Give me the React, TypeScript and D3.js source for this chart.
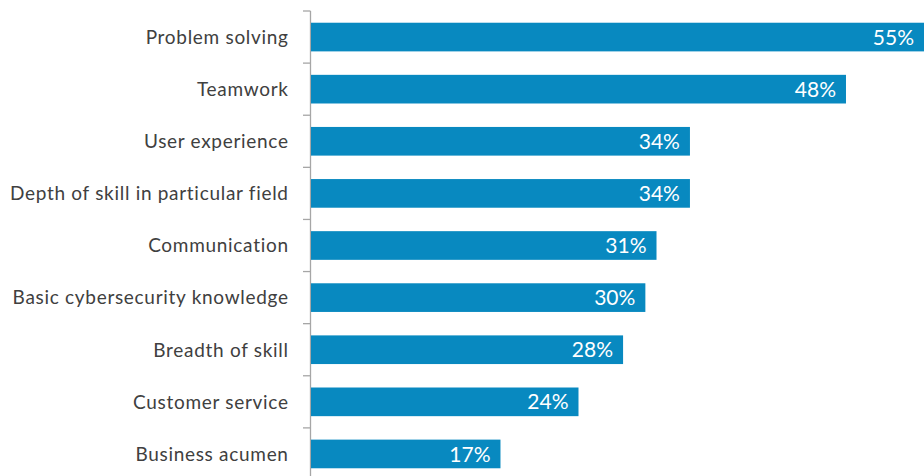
import { useEffect, useRef } from "react";
import * as d3 from "d3";

const categories = [
  "Problem solving",
  "Teamwork",
  "User experience",
  "Depth of skill in particular field",
  "Communication",
  "Basic cybersecurity knowledge",
  "Breadth of skill",
  "Customer service",
  "Business acumen",
];
const values = [55, 48, 34, 34, 31, 30, 28, 24, 17];

const App = () => {
  const ref = useRef<SVGSVGElement>(null);

  useEffect(() => {
    draw();
  }, []);

  const draw = () => {
    const width = 924;
    const height = 476;
    const font = "Lato, 'Open Sans', sans-serif";

    const svg = d3.select(ref.current).attr("width", width).attr("height", height);
    svg.selectAll("*").remove();

    const xScale = d3.scaleLinear().domain([0, 55]).range([311, 924]);
    const yScale = d3
      .scaleBand<string>()
      .domain(categories)
      .range([11, 480])
      .paddingInner(0.45)
      .paddingOuter(0.225);

    const step = yScale.step();
    const top = yScale.range()[0];

    // axis line + tick marks between categories
    const axisG = svg.append("g").attr("stroke", "#a6a6a6").attr("stroke-width", 1.3);
    axisG
      .append("line")
      .attr("x1", 310.5)
      .attr("x2", 310.5)
      .attr("y1", top)
      .attr("y2", height);
    axisG
      .selectAll("line.tick")
      .data(d3.range(categories.length + 1))
      .join("line")
      .attr("class", "tick")
      .attr("x1", 303)
      .attr("x2", 310.5)
      .attr("y1", (i) => top + i * step)
      .attr("y2", (i) => top + i * step);

    // bars
    svg
      .append("g")
      .selectAll("rect")
      .data(categories)
      .join("rect")
      .attr("x", xScale(0))
      .attr("y", (d) => yScale(d)!)
      .attr("width", (d, i) => xScale(values[i]) - xScale(0))
      .attr("height", yScale.bandwidth())
      .attr("fill", "#0889c0");

    // value labels
    svg
      .append("g")
      .selectAll("text")
      .data(categories)
      .join("text")
      .attr("x", (d, i) => xScale(values[i]) - 10)
      .attr("y", (d) => yScale(d)! + yScale.bandwidth() / 2)
      .attr("dy", "0.36em")
      .attr("text-anchor", "end")
      .attr("fill", "#ffffff")
      .style("font-family", font)
      .style("font-size", "21px")
      .text((d, i) => values[i] + "%");

    // category labels
    svg
      .append("g")
      .selectAll("text")
      .data(categories)
      .join("text")
      .attr("x", 288.7)
      .attr("y", (d) => yScale(d)! + yScale.bandwidth() / 2)
      .attr("dy", "0.36em")
      .attr("text-anchor", "end")
      .attr("fill", "#404040")
      .style("font-family", font)
      .style("font-size", "19px")
      .style("letter-spacing", "0.7px")
      .text((d) => d);
  };

  return (
    <div style={{ position: "absolute", left: 0, top: 0 }}>
      <svg ref={ref} style={{ display: "block" }}></svg>
    </div>
  );
};

export default App;
